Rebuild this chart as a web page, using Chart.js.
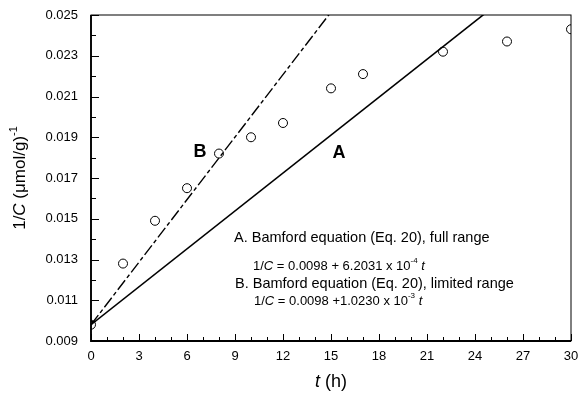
<!DOCTYPE html>
<html>
<head>
<meta charset="utf-8">
<script src="https://cdn.jsdelivr.net/npm/chart.js@4.4.1/dist/chart.umd.min.js"></script>
<style>
  html, body { margin: 0; padding: 0; background: #fff; }
  #wrap { width: 580px; height: 396px; }
</style>
</head>
<body>
<div id="wrap"><canvas id="chart"></canvas></div>
<script>
// Measured data
const times = [0, 2, 4, 6, 8, 10, 12, 15, 17, 22, 26, 30];
const invC = [0.0098, 0.0128, 0.0149, 0.0165, 0.0182, 0.0190, 0.0197, 0.0214, 0.0221, 0.0232, 0.0237, 0.0243];

// Fitted lines: 1/C = intercept + slope * t
const fitIntercept = [0.0098, 0.0098];
const fitSlope = [6.2031e-4, 1.0230e-3];
const fitRange = [0, 30];

const xTickLabels = ['0', '3', '6', '9', '12', '15', '18', '21', '24', '27', '30'];
const yTickLabels = ['0.009', '0.011', '0.013', '0.015', '0.017', '0.019', '0.021', '0.023', '0.025'];

const FONT = 'Liberation Sans, Arial, sans-serif';

function fitLine(i) {
    return fitRange.map(t => ({x: t, y: fitIntercept[i] + fitSlope[i] * t}));
}

// draw text made of parts: n = normal, i = italic, s = superscript
function drawRich(ctx, parts, x, y, size, align) {
    const fontFor = p => (p.s === 'i' ? 'italic ' : '') + (p.s === 's' ? Math.round(size * 0.62) : size) + 'px ' + FONT;
    let total = 0;
    parts.forEach(p => { ctx.font = fontFor(p); total += ctx.measureText(p.t).width; });
    let cx = align === 'center' ? x - total / 2 : x;
    ctx.textAlign = 'left';
    ctx.textBaseline = 'middle';
    parts.forEach(p => {
        ctx.font = fontFor(p);
        ctx.fillText(p.t, cx, p.s === 's' ? y - size * 0.38 : y);
        cx += ctx.measureText(p.t).width;
    });
}

const decorations = {
    id: 'decorations',
    afterDraw(chart) {
        const ctx = chart.ctx;
        const a = chart.chartArea;
        const xs = chart.scales.x, ys = chart.scales.y;
        ctx.save();
        ctx.strokeStyle = '#000';
        ctx.fillStyle = '#000';
        ctx.lineWidth = 1;
        ctx.strokeRect(a.left, a.top, a.right - a.left, a.bottom - a.top);
        ctx.lineWidth = 1.8;
        ctx.beginPath();
        ctx.moveTo(a.left, a.top);
        ctx.lineTo(a.left, a.bottom);
        ctx.lineTo(a.right, a.bottom);
        ctx.stroke();

        // inward ticks
        ctx.lineWidth = 1;
        ctx.beginPath();
        for (let t = 0; t <= 30; t++) {
            const px = Math.round(xs.getPixelForValue(t)) + 0.5;
            const len = t % 3 === 0 ? 7 : 4;
            ctx.moveTo(px, a.bottom);
            ctx.lineTo(px, a.bottom - len);
        }
        for (let k = 0; k <= 16; k++) {
            const py = Math.round(ys.getPixelForValue(0.009 + k * 0.001)) + 0.5;
            const len = k % 2 === 0 ? 8 : 5;
            ctx.moveTo(a.left, py);
            ctx.lineTo(a.left + len, py);
        }
        ctx.stroke();

        // axis titles
        drawRich(ctx, [{t: 't', s: 'i'}, {t: ' (h)', s: 'n'}], (a.left + a.right) / 2, 382, 18, 'center');
        ctx.save();
        ctx.translate(20, 178);
        ctx.rotate(-Math.PI / 2);
        drawRich(ctx, [{t: '1/', s: 'n'}, {t: 'C', s: 'i'}, {t: ' (\u03bcmol/g)', s: 'n'}, {t: '-1', s: 's'}], 0, 0, 17, 'center');
        ctx.restore();

        // line labels
        ctx.font = 'bold 18px ' + FONT;
        ctx.textAlign = 'center';
        ctx.textBaseline = 'middle';
        ctx.fillText('B', 200, 152);
        ctx.fillText('A', 339, 153);

        // equations
        drawRich(ctx, [{t: 'A. Bamford equation (Eq. 20), full range', s: 'n'}], 234, 238, 14.5, 'left');
        drawRich(ctx, [{t: '1/', s: 'n'}, {t: 'C', s: 'i'}, {t: ' = 0.0098 + 6.2031 x 10', s: 'n'}, {t: '-4', s: 's'}, {t: ' ', s: 'n'}, {t: 't', s: 'i'}], 253, 266, 13, 'left');
        drawRich(ctx, [{t: 'B. Bamford equation (Eq. 20), limited range', s: 'n'}], 235, 284, 14.5, 'left');
        drawRich(ctx, [{t: '1/', s: 'n'}, {t: 'C', s: 'i'}, {t: ' = 0.0098 +1.0230 x 10', s: 'n'}, {t: '-3', s: 's'}, {t: ' ', s: 'n'}, {t: 't', s: 'i'}], 254, 301, 13, 'left');
        ctx.restore();
    }
};

new Chart(document.getElementById('chart'), {
    type: 'scatter',
    data: {
        datasets: [
            {
                label: 'Data',
                data: times.map((t, i) => ({x: t, y: invC[i]})),
                pointStyle: 'circle',
                pointRadius: 4.5,
                pointBorderColor: '#000',
                pointBackgroundColor: 'rgba(255,255,255,0)',
                pointBorderWidth: 1,
                showLine: false,
                order: 0
            },
            {
                label: 'A',
                data: fitLine(0),
                showLine: true,
                borderColor: '#000',
                borderWidth: 1.6,
                pointRadius: 0,
                order: 1
            },
            {
                label: 'B',
                data: fitLine(1),
                showLine: true,
                borderColor: '#000',
                borderWidth: 1.4,
                borderDash: [12, 3, 4, 3],
                pointRadius: 0,
                order: 1
            }
        ]
    },
    options: {
        responsive: true,
        maintainAspectRatio: false,
        animation: false,
        layout: {padding: {top: 15, right: 9, left: 0, bottom: 0}},
        plugins: {legend: {display: false}, tooltip: {enabled: false}},
        scales: {
            x: {
                type: 'linear',
                min: 0,
                max: 30,
                grid: {display: false, drawTicks: false},
                border: {display: false},
                afterFit: s => { s.height = 55; s.paddingLeft = 0; s.paddingRight = 0; },
                ticks: {
                    stepSize: 1,
                    autoSkip: false,
                    maxRotation: 0,
                    padding: 8,
                    color: '#000',
                    font: {family: FONT, size: 13},
                    callback: v => (v % 3 === 0 ? xTickLabels[v / 3] : '')
                }
            },
            y: {
                type: 'linear',
                min: 0.009,
                max: 0.025,
                grid: {display: false, drawTicks: false},
                border: {display: false},
                afterFit: s => { s.width = 91; s.paddingTop = 0; s.paddingBottom = 0; },
                ticks: {
                    stepSize: 0.001,
                    autoSkip: false,
                    padding: 13,
                    color: '#000',
                    font: {family: FONT, size: 13},
                    callback: (v, i) => (i % 2 === 0 ? yTickLabels[i / 2] : '')
                }
            }
        }
    },
    plugins: [decorations]
});
</script>
</body>
</html>
